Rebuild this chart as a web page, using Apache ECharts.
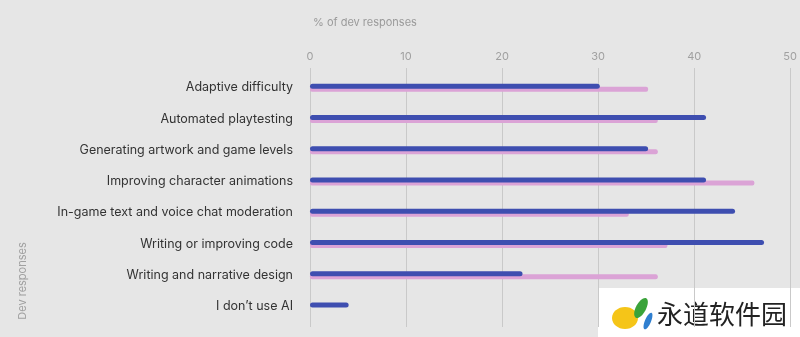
<!DOCTYPE html>
<html><head><meta charset="utf-8">
<script src="https://cdn.jsdelivr.net/npm/echarts@6/dist/echarts.min.js"></script>
<style>html,body{margin:0;padding:0;background:#e6e6e6}#c{width:800px;height:337px}</style>
</head><body><div id="c"></div>
<script>
const categories = ["Adaptive difficulty","Automated playtesting","Generating artwork and game levels","Improving character animations","In-game text and voice chat moderation","Writing or improving code","Writing and narrative design","I don\u2019t use AI"];
const blueValues = [30, 41, 35, 41, 44, 47, 22, 4];
const pinkValues = [35, 36, 36, 46, 33, 37, 36, 0];
const xTicks = [0, 10, 20, 30, 40, 50];

const chart = echarts.init(document.getElementById('c'));
chart.setOption({
  backgroundColor: '#e6e6e6',
  animation: false,
  title: {text: '% of dev responses', left: 308, top: 12, textStyle: {fontSize: 11, color: '#9a9a9a', fontWeight: 'normal', fontFamily: 'Inter'}},
  grid: [
    {left: 310, right: 7, top: 72, bottom: 15},
    {left: 310, right: 7, top: 68, bottom: 10}
  ],
  xAxis: [
    {gridIndex: 0, type: 'value', min: xTicks[0], max: xTicks[xTicks.length-1], interval: 10, show: false},
    {gridIndex: 1, type: 'value', position: 'top', min: xTicks[0], max: xTicks[xTicks.length-1], interval: 10,
     axisLine: {show: false}, axisTick: {show: false},
     axisLabel: {color: '#a0a0a0', fontSize: 11, margin: 6, fontFamily: 'Inter'},
     splitLine: {show: true, lineStyle: {color: '#c9c9c9', width: 1}}}
  ],
  yAxis: [
    {gridIndex: 0, type: 'category', data: categories, inverse: true,
     axisLine: {show: false}, axisTick: {show: false},
     axisLabel: {color: '#333', fontSize: 12.5, margin: 17, fontFamily: 'Inter'}},
    {gridIndex: 1, type: 'value', show: false}
  ],
  series: [
    {type: 'bar', xAxisIndex: 0, yAxisIndex: 0, data: blueValues, barWidth: 5, barGap: '-40%', z: 3,
     itemStyle: {color: '#3e4eb0', borderRadius: 2.5}},
    {type: 'bar', xAxisIndex: 0, yAxisIndex: 0, data: pinkValues, barWidth: 5, barGap: '-40%', z: 2,
     itemStyle: {color: '#dba3d6', borderRadius: 2}}
  ],
  graphic: [
    {type: 'text', x: 23, y: 281, rotation: Math.PI/2, style: {text: 'Dev responses', fill: '#a0a0a0', font: '11px Inter', align: 'center', verticalAlign: 'middle'}},
    {type: 'rect', shape: {x: 598, y: 288, width: 202, height: 49}, style: {fill: '#ffffff'}},
    {type: 'ellipse', shape: {cx: 625, cy: 318, rx: 13, ry: 11}, style: {fill: '#f5c518'}},
    {type: 'ellipse', shape: {cx: 0, cy: 0, rx: 5, ry: 11}, x: 641, y: 308, rotation: -0.5, style: {fill: '#3aa33a'}},
    {type: 'ellipse', shape: {cx: 0, cy: 0, rx: 3, ry: 9}, x: 648, y: 321, rotation: -0.4, style: {fill: '#2f7fd0'}},
    {type: 'text', x: 657, y: 314, style: {text: '永道软件园', fill: '#222', font: '26px "Noto Sans CJK SC"', verticalAlign: 'middle'}}
  ]
});
</script></body></html>
